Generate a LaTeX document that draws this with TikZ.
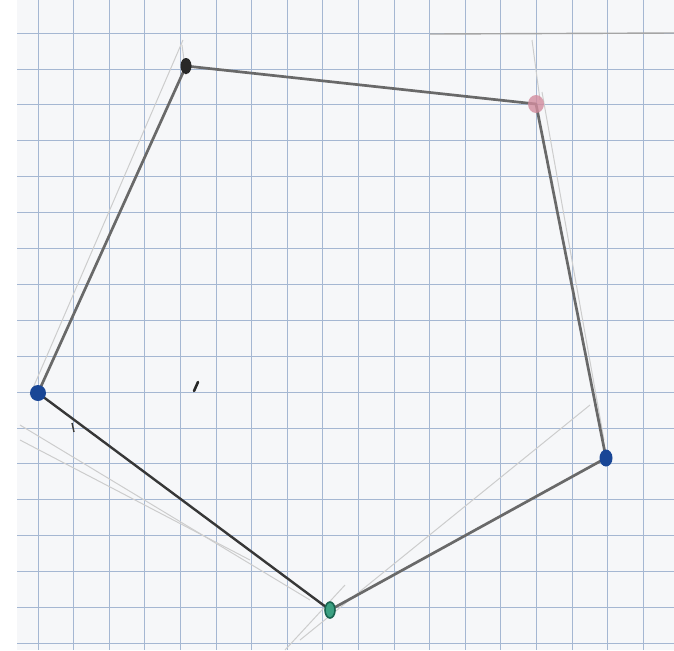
\documentclass[tikz,border=0pt]{standalone}
\usetikzlibrary{shapes.geometric}
\definecolor{paper}{RGB}{246,247,249}
\definecolor{gridc}{RGB}{165,183,210}
\definecolor{pencil}{RGB}{105,105,105}
\definecolor{dpencil}{RGB}{55,55,55}
\definecolor{faint}{RGB}{205,205,205}
\definecolor{dotblue}{RGB}{25,70,150}
\definecolor{dotpink}{RGB}{210,140,158}
\definecolor{dotblack}{RGB}{40,40,40}
\definecolor{dotgreen}{RGB}{60,160,130}
\definecolor{dotgreenD}{RGB}{25,100,80}
\begin{document}
\begin{tikzpicture}[x=0.5pt,y=-0.5pt,
 gridline/.style={gridc,line width=0.5pt},
 side/.style={pencil,line width=1.35pt,line cap=round},
 darkside/.style={dpencil,line width=1.2pt,line cap=round},
 faintline/.style={faint,line width=0.5pt},
 dotmark/.style={ellipse,inner sep=0pt,draw=none}]
\useasboundingbox (0,0) rectangle (674,650);
\fill[white] (0,0) rectangle (674,650);
\fill[paper] (17,0) rectangle (674,650);
\foreach \k in {0,...,17} \draw[gridline] ({38+35.6*\k},0) -- ({38+35.6*\k},650);
\foreach \k in {-1,...,16} \draw[gridline] (17,{69+35.9*\k}) -- (674,{69+35.9*\k});
\draw[pencil!60,line width=0.7pt] (430,34) -- (674,33);
% vertices
\coordinate (A) at (186,66);
\coordinate (B) at (536,104);
\coordinate (C) at (606,458);
\coordinate (D) at (330,610);
\coordinate (E) at (38,393);
% construction lines
\coordinate (f1) at (183,40); \coordinate (f2) at (30,395);
\coordinate (f3) at (182,45); \coordinate (f4) at (186,75);
\coordinate (f5) at (532,40); \coordinate (f6) at (540,100);
\coordinate (f7) at (542,92); \coordinate (f8) at (604,440);
\coordinate (f9) at (590,405); \coordinate (f10) at (300,640);
\coordinate (f11) at (345,585); \coordinate (f12) at (285,650);
\coordinate (f13) at (20,425); \coordinate (f14) at (310,600);
\coordinate (f15) at (20,440); \coordinate (f16) at (250,560);
\draw[faintline] (f1) -- (f2);
\draw[faintline] (f3) -- (f4);
\draw[faintline] (f5) -- (f6);
\draw[faintline] (f7) -- (f8);
\draw[faintline] (f9) -- (f10);
\draw[faintline] (f11) -- (f12);
\draw[faintline] (f13) -- (f14);
\draw[faintline] (f15) -- (f16);
% sides
\draw[side] (A) -- (B);
\draw[side] (B) -- (C);
\draw[side] (C) -- (D);
\draw[darkside] (D) -- (E);
\draw[side] (E) -- (A);
% small marks
\coordinate (m1) at (194,391); \coordinate (m2) at (198,382);
\draw[dotblack,line width=1.3pt,line cap=round] (m1) -- (m2);
\coordinate (t1) at (72,423); \coordinate (t2) at (74,432);
\draw[dpencil,line width=0.7pt] (t1) -- (t2);
% dots
\node[dotmark,fill=dotblack,minimum width=5.5pt,minimum height=8pt] (a) at (A) {};
\node[dotmark,fill=dotpink,opacity=0.8,minimum width=8pt,minimum height=9pt] (b) at (B) {};
\node[dotmark,fill=dotblue,minimum width=6.5pt,minimum height=8.5pt] (c) at (C) {};
\node[dotmark,fill=dotgreen,draw=dotgreenD,line width=0.8pt,minimum width=5pt,minimum height=8pt] (d) at (D) {};
\node[dotmark,fill=dotblue,minimum width=8pt,minimum height=8pt] (e) at (E) {};
\end{tikzpicture}
\end{document}
